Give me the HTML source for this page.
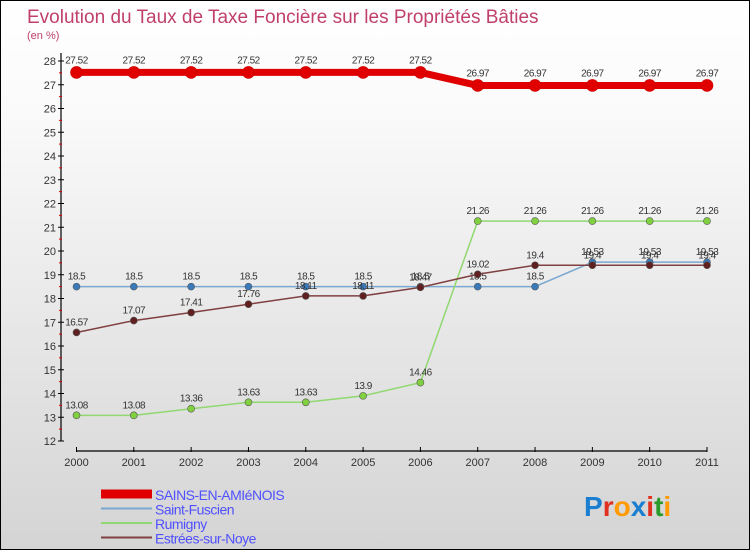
<!DOCTYPE html>
<html><head><meta charset="utf-8"><style>
body{margin:0;}
#wrap{width:748px;height:548px;border:1px solid #000;background:linear-gradient(#fff,#fafafa 20%,#d4d4d4);position:relative;overflow:hidden;font-family:"Liberation Sans",sans-serif;}
text{font-family:"Liberation Sans",sans-serif;}
</style></head><body>
<div id="wrap">
<svg id="svg" width="748" height="548" xmlns="http://www.w3.org/2000/svg">
<text x="26" y="22" font-size="19" fill="#c0406a">Evolution du Taux de Taxe Foncière sur les Propriétés Bâties</text>
<text x="26" y="38" font-size="11" fill="#c0406a">(en %)</text>
<g id="axes"></g><g id="series"></g><g id="legend"></g>
<text x="583" y="515" font-size="28" font-weight="bold"><tspan fill="#1a7fd0">P</tspan><tspan fill="#e03020">r</tspan><tspan fill="#ff9a00">o</tspan><tspan fill="#1a7fd0">x</tspan><tspan fill="#e03020">i</tspan><tspan fill="#2a9a2a">t</tspan><tspan fill="#ff9a00">i</tspan></text>
</svg></div>
<script>
const years=[2000,2001,2002,2003,2004,2005,2006,2007,2008,2009,2010,2011];
const sains=[27.52,27.52,27.52,27.52,27.52,27.52,27.52,26.97,26.97,26.97,26.97,26.97];
const fuscien=[18.5,18.5,18.5,18.5,18.5,18.5,18.5,18.5,18.5,19.53,19.53,19.53];
const rumigny=[13.08,13.08,13.36,13.63,13.63,13.9,14.46,21.26,21.26,21.26,21.26,21.26];
const estrees=[16.57,17.07,17.41,17.76,18.11,18.11,18.47,19.02,19.4,19.4,19.4,19.4];
const yTicks=[12,13,14,15,16,17,18,19,20,21,22,23,24,25,26,27,28];
const names=["SAINS-EN-AMIéNOIS","Saint-Fuscien","Rumigny","Estrées-sur-Noye"];
const NS="http://www.w3.org/2000/svg";
const X=i=>75.5+i*(706-75.5)/11;
const Y=v=>440-(v-12)*(380/16);
function mk(tag,attrs,parent){const e=document.createElementNS(NS,tag);for(const k in attrs)e.setAttribute(k,attrs[k]);parent.appendChild(e);return e;}
const ax=document.getElementById('axes');
let a=mk('line',{x1:60,y1:52,x2:60,y2:440,stroke:'#000','stroke-width':1.2},ax);


a=mk('line',{x1:75.5,y1:450,x2:706,y2:450,stroke:'#000','stroke-width':1.2},ax);


yTicks.forEach(v=>{const y=Y(v);
 mk('line',{x1:57,y1:y,x2:63,y2:y,stroke:'#000'},ax);
 if(v<28)mk('line',{x1:58,y1:y-11.9,x2:61,y2:y-11.9,stroke:'#d00'},ax);
 const t=mk('text',{x:55,y:y+4,'font-size':11,fill:'#333','text-anchor':'end'},ax);t.textContent=v;
 
 });
years.forEach((yr,i)=>{const x=X(i);
 mk('line',{x1:x,y1:446,x2:x,y2:451,stroke:'#000'},ax);
 const t=mk('text',{x:x,y:465,'font-size':11,fill:'#333','text-anchor':'middle'},ax);t.textContent=yr;
 
 });
const sg=document.getElementById('series');
const defs=[[sains,'#e00000',7,6,'#e00000'],[fuscien,'#7aa8d0',1.5,3.5,'#3a7ab8'],[rumigny,'#90d870',1.5,3.5,'#80d040'],[estrees,'#804040',1.5,3.5,'#602020']];
defs.forEach(([d,c,w,r,fc],s)=>{
 const g=mk('g',{},sg);
 
 
 const p=mk('polyline',{points:d.map((v,i)=>X(i)+','+Y(v)).join(' '),fill:'none',stroke:c,'stroke-width':w},g);
 
 
 d.forEach((v,i)=>{
  const cc=mk('circle',{cx:X(i),cy:Y(v),r:r,fill:fc,stroke:s==0?'#c00':'#555','stroke-width':0.6},g);
  
  
  const t=mk('text',{x:X(i),y:Y(v)-(s==0?9:7),'font-size':10,fill:'#333','text-anchor':'middle','letter-spacing':'-0.5'},g);
  t.textContent=v;
  
  });
});
const lg=document.getElementById('legend');
defs.forEach(([d,c,w],s)=>{const y=493+s*14.5;
 const g=mk('g',{},lg);
 
 
 mk('line',{x1:100,y1:y,x2:151,y2:y,stroke:c,'stroke-width':s==0?9:2},g);
 const t=mk('text',{x:154,y:y+6,'font-size':14,fill:'#5050ff','letter-spacing':'-0.5'},g);t.textContent=names[s];});
</script></body></html>
